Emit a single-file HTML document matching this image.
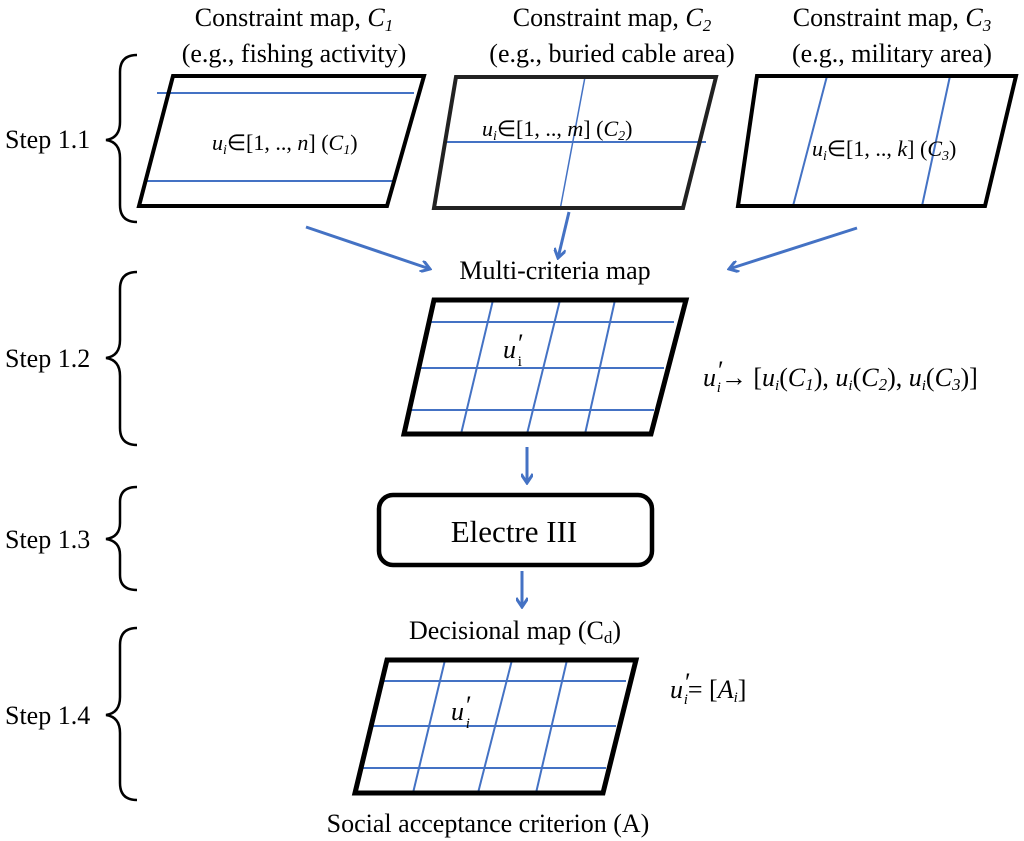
<!DOCTYPE html>
<html><head><meta charset="utf-8"><style>
html,body{margin:0;padding:0;background:#fff;}
svg{display:block;}
text{font-family:"Liberation Serif",serif;fill:#000;}
</style></head><body>
<svg width="1024" height="841" viewBox="0 0 1024 841" xmlns="http://www.w3.org/2000/svg">
<defs>
<marker id="ah" markerWidth="12" markerHeight="12" refX="10" refY="6" orient="auto" markerUnits="userSpaceOnUse">
<path d="M1,0 L10,6 L1,12" fill="none" stroke="#4472C4" stroke-width="3"/>
</marker>
</defs>
<g font-size="26" text-anchor="middle">
<text x="294" y="26">Constraint map, <tspan font-style="italic">C<tspan font-size="17" dy="5">1</tspan></tspan></text>
<text x="294" y="62">(e.g., fishing activity)</text>
<text x="612" y="26">Constraint map, <tspan font-style="italic">C<tspan font-size="17" dy="5">2</tspan></tspan></text>
<text x="612" y="62">(e.g., buried cable area)</text>
<text x="892" y="26">Constraint map, <tspan font-style="italic">C<tspan font-size="17" dy="5">3</tspan></tspan></text>
<text x="892" y="62">(e.g., military area)</text>
</g>
<g stroke="#4472C4" stroke-width="2">
<line x1="157" y1="93" x2="414" y2="93"/>
<line x1="145" y1="181" x2="394" y2="181"/>
<line x1="447" y1="142" x2="706" y2="142"/>
<line x1="585" y1="77" x2="560" y2="210" stroke-width="1.5"/>
<line x1="827" y1="76" x2="793" y2="206"/>
<line x1="950" y1="76" x2="922" y2="206"/>
</g>
<polygon points="173,76 424,76 387,206 139,206" fill="none" stroke="#000" stroke-width="4"/>
<polygon points="456,77 716,77 683,208 434,208" fill="none" stroke="#222" stroke-width="4"/>
<polygon points="757,76 1016,76 985,206 738,206" fill="none" stroke="#000" stroke-width="4"/>
<g font-size="22">
<text x="212" y="150"><tspan font-style="italic">u</tspan><tspan font-size="14" dy="4" font-style="italic">i</tspan><tspan dy="-4">∈[1, .., </tspan><tspan font-style="italic">n</tspan>] (<tspan font-style="italic">C<tspan font-size="14" dy="4">1</tspan></tspan><tspan dy="-4">)</tspan></text>
<text x="482" y="136"><tspan font-style="italic">u</tspan><tspan font-size="14" dy="4" font-style="italic">i</tspan><tspan dy="-4">∈[1, .., </tspan><tspan font-style="italic">m</tspan>] (<tspan font-style="italic">C<tspan font-size="14" dy="4">2</tspan></tspan><tspan dy="-4">)</tspan></text>
<text x="812" y="156"><tspan font-style="italic">u</tspan><tspan font-size="14" dy="4" font-style="italic">i</tspan><tspan dy="-4">∈[1, .., </tspan><tspan font-style="italic">k</tspan>] (<tspan font-style="italic">C<tspan font-size="14" dy="4">3</tspan></tspan><tspan dy="-4">)</tspan></text>
</g>
<g stroke="#4472C4" stroke-width="3" fill="none" marker-end="url(#ah)">
<line x1="306" y1="227" x2="430" y2="269"/>
<line x1="569" y1="212" x2="558" y2="258"/>
<line x1="857" y1="228" x2="729" y2="269"/>
<line x1="527" y1="447" x2="527" y2="483"/>
<line x1="522" y1="571" x2="522" y2="607"/>
</g>
<text x="555" y="279" font-size="26" text-anchor="middle">Multi-criteria map</text>
<g stroke="#4472C4" stroke-width="2">
<line x1="430" y1="322" x2="674" y2="322"/>
<line x1="420" y1="368" x2="664" y2="368"/>
<line x1="410" y1="410" x2="654" y2="410"/>
<line x1="493" y1="300" x2="461" y2="434"/>
<line x1="560" y1="300" x2="527" y2="434"/>
<line x1="615" y1="300" x2="585" y2="434"/>
</g>
<polygon points="434,300 686,300 651,434 404,434" fill="none" stroke="#000" stroke-width="5"/>
<text x="503" y="358" font-size="26" font-style="italic">u<tspan font-style="normal" dx="2" dy="-6">′</tspan><tspan font-size="15" font-style="normal" dx="-6" dy="14">i</tspan></text>
<text x="703" y="386" font-size="26"><tspan font-style="italic">u</tspan><tspan dx="2" dy="-7">′</tspan><tspan font-size="15" font-style="italic" dx="-7" dy="13">i</tspan><tspan dy="-6">→ [</tspan><tspan font-style="italic">u</tspan><tspan font-size="15" font-style="italic" dy="4">i</tspan><tspan dy="-4">(</tspan><tspan font-style="italic">C</tspan><tspan font-size="17" font-style="italic" dy="4">1</tspan><tspan dy="-4">), </tspan><tspan font-style="italic">u</tspan><tspan font-size="15" font-style="italic" dy="4">i</tspan><tspan dy="-4">(</tspan><tspan font-style="italic">C</tspan><tspan font-size="17" font-style="italic" dy="4">2</tspan><tspan dy="-4">), </tspan><tspan font-style="italic">u</tspan><tspan font-size="15" font-style="italic" dy="4">i</tspan><tspan dy="-4">(</tspan><tspan font-style="italic">C</tspan><tspan font-size="17" font-style="italic" dy="4">3</tspan><tspan dy="-4">)]</tspan></text>
<rect x="379" y="495" width="273" height="70" rx="14" fill="none" stroke="#000" stroke-width="4.5"/>
<text x="514" y="542" font-size="31" text-anchor="middle">Electre III</text>
<text x="515" y="639" font-size="26" text-anchor="middle">Decisional map (C<tspan font-size="17" dy="4">d</tspan><tspan dy="-4">)</tspan></text>
<g stroke="#4472C4" stroke-width="2">
<line x1="383" y1="681" x2="626" y2="681"/>
<line x1="373" y1="726" x2="616" y2="726"/>
<line x1="362" y1="768" x2="606" y2="768"/>
<line x1="445" y1="660" x2="413" y2="793"/>
<line x1="512" y1="660" x2="478" y2="793"/>
<line x1="567" y1="660" x2="536" y2="793"/>
</g>
<polygon points="387,660 636,660 603,793 355,793" fill="none" stroke="#000" stroke-width="5"/>
<text x="451" y="720" font-size="26" font-style="italic">u<tspan font-style="normal" dx="2" dy="-6">′</tspan><tspan font-size="15" dx="-6" dy="14">i</tspan></text>
<text x="670" y="698" font-size="26"><tspan font-style="italic">u</tspan><tspan dx="2" dy="-7">′</tspan><tspan font-size="15" font-style="italic" dx="-7" dy="13">i</tspan><tspan dy="-6">= [</tspan><tspan font-style="italic">A</tspan><tspan font-size="15" font-style="italic" dy="4">i</tspan><tspan dy="-4">]</tspan></text>
<text x="488" y="832" font-size="26" text-anchor="middle">Social acceptance criterion (A)</text>
<g fill="none" stroke="#000" stroke-width="2.5">
<path d="M137,55 Q120,55 120,72 L120,122 Q120,138 106,140 Q120,142 120,158 L120,205 Q120,222 137,222"/>
<path d="M137,272 Q120,272 120,289 L120,340 Q120,356 106,358 Q120,360 120,376 L120,428 Q120,445 137,445"/>
<path d="M137,487 Q120,487 120,502 L120,523 Q120,537 106,539 Q120,541 120,555 L120,575 Q120,590 137,590"/>
<path d="M137,628 Q120,628 120,645 L120,697 Q120,713 106,715 Q120,717 120,733 L120,783 Q120,800 137,800"/>
</g>
<g font-size="26">
<text x="5" y="148">Step 1.1</text>
<text x="5" y="367">Step 1.2</text>
<text x="5" y="548">Step 1.3</text>
<text x="5" y="724">Step 1.4</text>
</g>
</svg>
</body></html>
